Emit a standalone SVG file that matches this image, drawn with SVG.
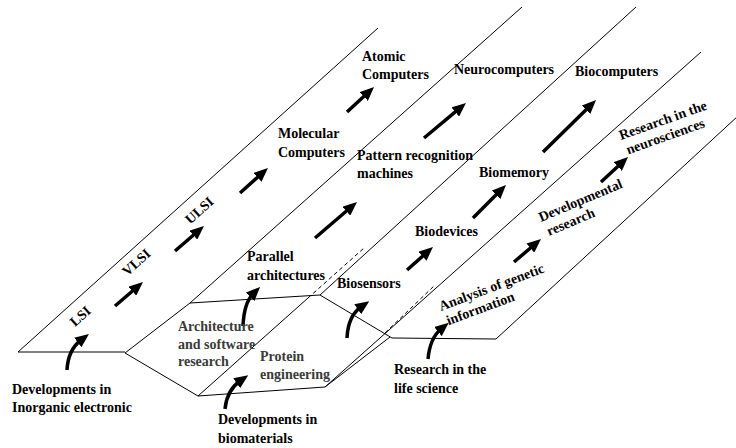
<svg xmlns="http://www.w3.org/2000/svg" width="736" height="448" viewBox="0 0 736 448">
<style>
text{font-family:"Liberation Serif","Times New Roman",serif;font-size:14px;font-weight:bold;fill:#000}
.g{fill:#3a3a3a}
.ln{stroke:#000;stroke-width:1;fill:none}
.ds{stroke:#000;stroke-width:1;fill:none;stroke-dasharray:4 3}
.ar{stroke:#000;stroke-width:3.5;fill:none;marker-end:url(#ah)}
</style>
<defs>
<marker id="ah" markerUnits="userSpaceOnUse" markerWidth="14" markerHeight="12" viewBox="0 0 14 12" refX="4" refY="6" orient="auto">
<path d="M0,0 L14,6 L0,12 z" fill="#000"/>
</marker>
</defs>
<rect width="736" height="448" fill="#fff"/>
<g id="lanes">
<path class="ln" d="M18,352 L378,28"/>
<path class="ln" d="M18,352 L125,352"/>
<path class="ln" d="M125,353 L190,303 L522,7"/>
<path class="ln" d="M125,353 L198,396 L325,387"/>
<path class="ln" d="M198,396 L308,298"/>
<path class="ds" d="M308,298 L364,248"/>
<path class="ln" d="M190,303 L320,295 L392,338 L496,339 L738,116"/>
<path class="ln" d="M320,295 L636,7"/>
<path class="ln" d="M325,387 L701,52"/>
<path class="ln" d="M325,387 L390,337"/>
<path class="ds" d="M385,333 L435,285"/>
</g>
<g id="connectors">
<path class="ar" d="M115,306 L135.4,288.5"/>
<path class="ar" d="M175,251 L196.4,232.5"/>
<path class="ar" d="M240,193 L260.5,174.7"/>
<path class="ar" d="M347,112 L366.7,93.8"/>
<path class="ar" d="M315,238 L349.4,208.5"/>
<path class="ar" d="M424,138 L458.3,109.4"/>
<path class="ar" d="M407,270 L425.5,253.6"/>
<path class="ar" d="M473,218 L498.9,192.1"/>
<path class="ar" d="M543,152 L588.9,107"/>
<path class="ar" d="M514,262 L533.4,245.5"/>
<path class="ar" d="M601,182 L620.7,163.8"/>
<path class="ar" d="M67,370 Q68,350 81,340"/>
<path class="ar" d="M243,326 Q244,303 253,294"/>
<path class="ar" d="M225,409 Q227,390 240,381"/>
<path class="ar" d="M347,338 Q348,316 361,307"/>
<path class="ar" d="M428,359 Q430,338 441,329"/>
</g>
<g id="n-lsi"><text transform="translate(80,316) rotate(-42)" text-anchor="middle" y="5">LSI</text></g>
<g id="n-vlsi"><text transform="translate(136,262) rotate(-42)" text-anchor="middle" y="5">VLSI</text></g>
<g id="n-ulsi"><text transform="translate(199,210) rotate(-42)" text-anchor="middle" y="5">ULSI</text></g>
<g id="n-molecular"><text x="278" y="138">Molecular</text><text x="278" y="157">Computers</text></g>
<g id="n-atomic"><text x="362" y="61">Atomic</text><text x="362" y="79">Computers</text></g>
<g id="n-parallel"><text x="247" y="261">Parallel</text><text x="247" y="280">architectures</text></g>
<g id="n-pattern"><text x="357" y="160">Pattern recognition</text><text x="357" y="178">machines</text></g>
<g id="n-neuro"><text x="454" y="74">Neurocomputers</text></g>
<g id="n-biosensors"><text x="337" y="288">Biosensors</text></g>
<g id="n-biodevices"><text x="415" y="236">Biodevices</text></g>
<g id="n-biomemory"><text x="479" y="177">Biomemory</text></g>
<g id="n-biocomputers"><text x="575" y="76">Biocomputers</text></g>
<g id="n-analysis"><text transform="translate(441,311) rotate(-20.5)">Analysis of genetic<tspan x="2" dy="16">information</tspan></text></g>
<g id="n-developmental"><text transform="translate(541,222) rotate(-22.8)">Developmental<tspan x="2" dy="16">research</tspan></text></g>
<g id="n-neurosciences"><text transform="translate(621,140) rotate(-19.6)">Research in the<tspan x="2" dy="16">neurosciences</tspan></text></g>
<g id="n-inorganic"><text x="12" y="394">Developments in</text><text x="12" y="412">Inorganic electronic</text></g>
<g id="n-architecture"><text class="g" x="178" y="331">Architecture</text><text class="g" x="178" y="349">and software</text><text class="g" x="178" y="366">research</text></g>
<g id="n-protein"><text class="g" x="260" y="361">Protein</text><text class="g" x="260" y="379">engineering</text></g>
<g id="n-biomaterials"><text x="218" y="424">Developments in</text><text x="218" y="443">biomaterials</text></g>
<g id="n-lifescience"><text x="394" y="374">Research in the</text><text x="394" y="393">life science</text></g>
</svg>
